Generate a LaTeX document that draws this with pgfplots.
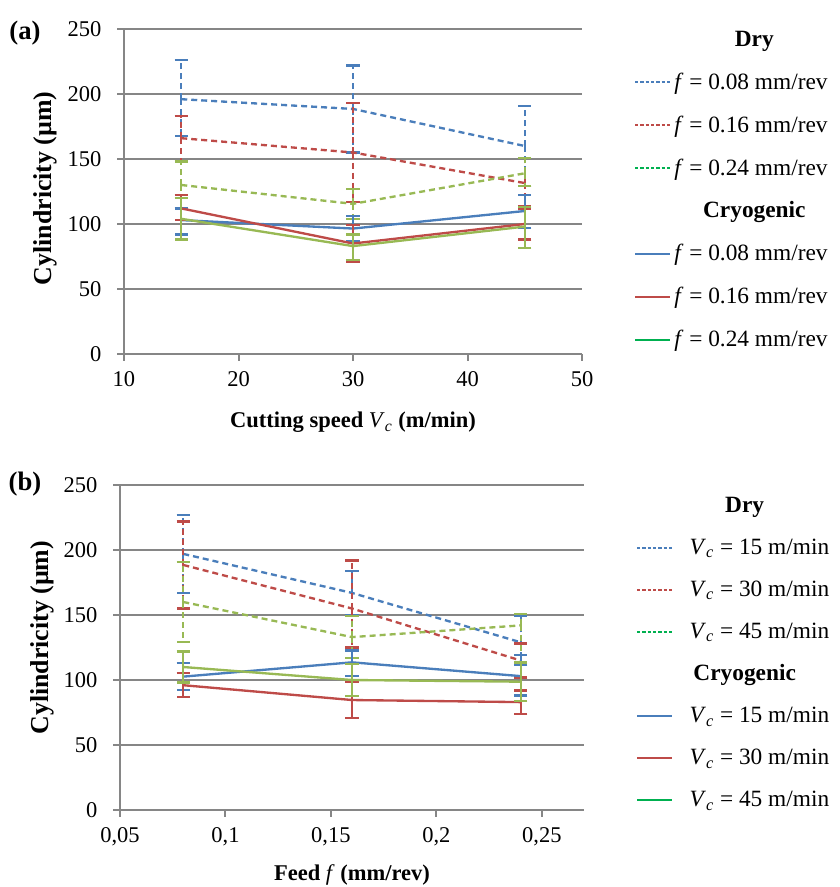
\documentclass[border=0pt]{standalone}
\usepackage{pgfplots}
\pgfplotsset{compat=1.18}
\usepackage{fontspec}
\setmainfont{Liberation Serif}
\definecolor{cblue}{HTML}{4A7EBB}
\definecolor{cred}{HTML}{BE4B48}
\definecolor{cgreen}{HTML}{98B954}
\definecolor{lgreen}{HTML}{00B050}
\definecolor{gridc}{HTML}{868686}

\tikzset{dryd/.style={dash pattern=on 3.6pt off 2.4pt},
  dryleg/.style={line width=1pt, dash pattern=on 2pt off 1.2pt}}
\pgfplotsset{
  ebar/.style={#1, line width=1.4pt, no marks,
    error bars/.cd, y dir=both, y explicit,
    error bar style={#1, line width=1.4pt},
    error mark options={rotate=90, mark size=4pt, #1, solid, line width=1.4pt},
    /pgfplots/.cd},
  base/.style={
    scale only axis, height=195pt,
    axis lines=left, axis line style={gridc, line width=1.2pt, -},
    ymin=0, ymax=250, ytick={0,50,...,250},
    ymajorgrids, major grid style={gridc, line width=1.2pt},
    tick style={gridc, line width=1.2pt}, tick align=outside,
    major tick length=4pt,
    tick label style={font=\fontsize{13.5}{15}\selectfont},
    yticklabel style={xshift=-6pt},
    xticklabel style={yshift=-3pt},
    /pgf/number format/assume math mode=true,
    xlabel style={font=\fontsize{13.5}{15}\selectfont\bfseries},
    ylabel style={font=\fontsize{15.5}{17}\selectfont\bfseries},
    clip=false,
    legend cell align=left,
    legend image code/.code={\draw[##1] (0pt,0pt) -- (21pt,0pt);},
    legend style={draw=none, fill=none, inner sep=0pt, row sep=10.4pt,
      font=\fontsize{14}{16}\selectfont, anchor=north west},
  }
}

\begin{document}
\begin{tikzpicture}
\path[use as bounding box] (0,0) rectangle (503.4pt,-532.2pt);

% (a) cylindricity vs cutting speed
\begin{axis}[base, at={(74.4pt,-212.4pt)}, anchor=south west,
  width=274.8pt,
  xmin=10, xmax=50, xtick={10,20,...,50},
  xlabel={Cutting speed \textmd{\textit{V}\textsubscript{\textit{c}}} (m/min)},
  xlabel style={at={(axis description cs:0.5,-0.21)}, anchor=center},
  ylabel={Cylindricity (µm)},
  ylabel style={at={(axis description cs:-0.172,0.51)}, anchor=center},
  legend style={at={(1,1)}, xshift=31pt, yshift=1pt},
]
% dry
\addplot[forget plot, ebar={cblue,dryd}] coordinates {
  (15,196) += (0,30) -= (0,28.5)
  (30,188.5) += (0,33.5) -= (0,33.5)
  (45,160) += (0,31) -= (0,31)
};
\addplot[forget plot, ebar={cred,dryd}] coordinates {
  (15,166) += (0,17) -= (0,18)
  (30,155) += (0,38) -= (0,38)
  (45,131.5) += (0,19.5) -= (0,18)
};
\addplot[forget plot, ebar={cgreen,dryd}] coordinates {
  (15,130) += (0,18) -= (0,18)
  (30,115.5) += (0,11.5) -= (0,11.5)
  (45,139) += (0,12) -= (0,10)
};
% cryogenic
\addplot[forget plot, ebar={cblue}] coordinates {
  (15,103) += (0,9) -= (0,11)
  (30,96.5) += (0,9.5) -= (0,10)
  (45,110) += (0,12.5) -= (0,13)
};
\addplot[forget plot, ebar={cred}] coordinates {
  (15,112) += (0,10.5) -= (0,9)
  (30,85) += (0,14) -= (0,14)
  (45,100) += (0,12) -= (0,12)
};
\addplot[forget plot, ebar={cgreen}] coordinates {
  (15,104) += (0,16) -= (0,16)
  (30,83) += (0,9) -= (0,10.5)
  (45,98) += (0,15) -= (0,16.5)
};
\addlegendimage{empty legend}
\addlegendentry{\makebox[96pt][c]{\bfseries Dry}}
\addlegendimage{cblue, dryleg}
\addlegendentry{\textit{f} = 0.08 mm/rev}
\addlegendimage{cred, dryleg}
\addlegendentry{\textit{f} = 0.16 mm/rev}
\addlegendimage{lgreen, dryleg}
\addlegendentry{\textit{f} = 0.24 mm/rev}
\addlegendimage{empty legend}
\addlegendentry{\makebox[96pt][c]{\bfseries Cryogenic}}
\addlegendimage{cblue, line width=1.2pt}
\addlegendentry{\textit{f} = 0.08 mm/rev}
\addlegendimage{cred, line width=1.2pt}
\addlegendentry{\textit{f} = 0.16 mm/rev}
\addlegendimage{lgreen, line width=1.2pt}
\addlegendentry{\textit{f} = 0.24 mm/rev}
\node[font=\fontsize{16}{18}\selectfont\bfseries] at (rel axis cs:0,1) [xshift=-59.4pt, yshift=-2.4pt] {(a)};
\end{axis}

% (b) cylindricity vs feed
\begin{axis}[base, at={(72pt,-486pt)}, anchor=south west,
  width=278.4pt,
  xmin=0.05, xmax=0.27, xtick={0.05,0.1,0.15,0.2,0.25},
  /pgf/number format/.cd, use comma, fixed, precision=2, /pgfplots/.cd,
  xlabel={Feed \textmd{\textit{f}} (mm/rev)},
  xlabel style={at={(axis description cs:0.5,-0.2)}, anchor=center},
  ylabel={Cylindricity (µm)},
  ylabel style={at={(axis description cs:-0.168,0.53)}, anchor=center},
  legend style={at={(1,1)}, xshift=31pt, yshift=-5pt},
]
% dry
\addplot[forget plot, ebar={cblue,dryd}] coordinates {
  (0.08,197) += (0,30) -= (0,30)
  (0.16,167) += (0,17) -= (0,17)
  (0.24,129) += (0,20) -= (0,17)
};
\addplot[forget plot, ebar={cred,dryd}] coordinates {
  (0.08,188.5) += (0,33.5) -= (0,33.5)
  (0.16,155) += (0,37) -= (0,30)
  (0.24,115) += (0,13) -= (0,13)
};
\addplot[forget plot, ebar={cgreen,dryd}] coordinates {
  (0.08,160) += (0,31) -= (0,31)
  (0.16,133) += (0,16) -= (0,16)
  (0.24,142) += (0,9) -= (0,29)
};
% cryogenic
\addplot[forget plot, ebar={cblue}] coordinates {
  (0.08,102.6) += (0,10.5) -= (0,10.5)
  (0.16,113.6) += (0,9) -= (0,10.6)
  (0.24,103) += (0,16) -= (0,15)
};
\addplot[forget plot, ebar={cred}] coordinates {
  (0.08,96) += (0,9.6) -= (0,9.3)
  (0.16,84.6) += (0,14) -= (0,13.6)
  (0.24,83) += (0,9) -= (0,9)
};
\addplot[forget plot, ebar={cgreen}] coordinates {
  (0.08,110) += (0,12) -= (0,12)
  (0.16,100) += (0,12.5) -= (0,12.5)
  (0.24,98.7) += (0,15) -= (0,15)
};
\addlegendimage{empty legend}
\addlegendentry{\makebox[82pt][c]{\bfseries Dry}}
\addlegendimage{cblue, dryleg}
\addlegendentry{\hspace{8pt}\textit{V}\textsubscript{\textit{c}} = 15 m/min}
\addlegendimage{cred, dryleg}
\addlegendentry{\hspace{8pt}\textit{V}\textsubscript{\textit{c}} = 30 m/min}
\addlegendimage{lgreen, dryleg}
\addlegendentry{\hspace{8pt}\textit{V}\textsubscript{\textit{c}} = 45 m/min}
\addlegendimage{empty legend}
\addlegendentry{\makebox[82pt][c]{\bfseries Cryogenic}}
\addlegendimage{cblue, line width=1.2pt}
\addlegendentry{\hspace{8pt}\textit{V}\textsubscript{\textit{c}} = 15 m/min}
\addlegendimage{cred, line width=1.2pt}
\addlegendentry{\hspace{8pt}\textit{V}\textsubscript{\textit{c}} = 30 m/min}
\addlegendimage{lgreen, line width=1.2pt}
\addlegendentry{\hspace{8pt}\textit{V}\textsubscript{\textit{c}} = 45 m/min}
\node[font=\fontsize{16}{18}\selectfont\bfseries] at (rel axis cs:0,1) [xshift=-57pt, yshift=0.6pt] {(b)};
\end{axis}
\end{tikzpicture}
\end{document}
